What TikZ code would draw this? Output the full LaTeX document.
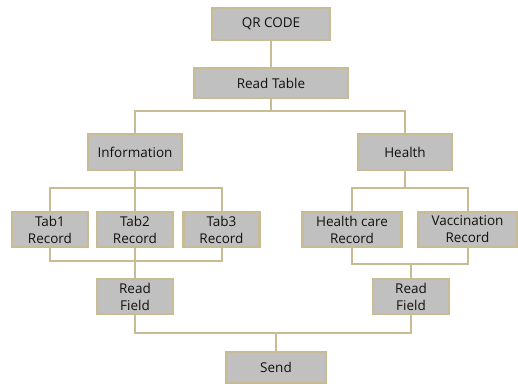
\documentclass[tikz,border=0pt]{standalone}
\usepackage{fontspec}
\setmainfont{Open Sans}
\definecolor{boxfill}{HTML}{C0C0C0}
\definecolor{edge}{HTML}{C7BC93}
\definecolor{txt}{HTML}{111111}
\begin{document}
\begin{tikzpicture}[x=1pt,y=-1pt,
  box/.style={draw=edge,line width=2.4pt,fill=boxfill,inner sep=0pt,
    text=txt,font=\fontsize{13.5}{17}\selectfont,align=center},
  link/.style={draw=edge,line width=2pt}]
\useasboundingbox (0,0) rectangle (518,383);
\node[box,minimum width=118,minimum height=32] (qr) at (271,24) {QR CODE};
\node[box,minimum width=154,minimum height=30] (rt) at (271,83) {Read Table};
\node[box,minimum width=94,minimum height=36] (info) at (135,152) {Information};
\node[box,minimum width=94,minimum height=36] (health) at (405,152) {Health};
\node[box,minimum width=76,minimum height=35] (t1) at (50,229.5) {Tab1\\Record};
\node[box,minimum width=76,minimum height=35] (t2) at (135,229.5) {Tab2\\Record};
\node[box,minimum width=76,minimum height=35] (t3) at (221.5,229.5) {Tab3\\Record};
\node[box,minimum width=99,minimum height=35] (hc) at (352,229.5) {Health care\\Record};
\node[box,minimum width=99,minimum height=35] (vac) at (467.5,229.5) {Vaccination\\Record};
\node[box,minimum width=76,minimum height=35] (rfl) at (135,296.5) {Read\\Field};
\node[box,minimum width=76,minimum height=35] (rfr) at (411,296.5) {Read\\Field};
\node[box,minimum width=100,minimum height=31] (send) at (276,367.5) {Send};
\coordinate (b1) at (0,111);
\coordinate (b2) at (0,188);
\coordinate (b3) at (0,261);
\coordinate (b4) at (0,264);
\coordinate (b5) at (0,333);
\draw[link] (qr.south) -- (rt.north);
\draw[link] (rt.south) -- (rt.south |- b1) -| (info.north);
\draw[link] (rt.south |- b1) -| (health.north);
\draw[link] (info.south) -- (info.south |- b2) -| (t1.north);
\draw[link] (info.south |- b2) -- (t2.north);
\draw[link] (info.south |- b2) -| (t3.north);
\draw[link] (health.south) -- (health.south |- b2) -| (hc.north);
\draw[link] (health.south |- b2) -| (vac.north);
\draw[link] (t1.south) |- (t2.south |- b3) -- (rfl.north);
\draw[link] (t3.south) |- (t2.south |- b3) -- (t2.south);
\draw[link] (hc.south) |- (rfr.north |- b4) -- (rfr.north);
\draw[link] (vac.south) |- (rfr.north |- b4);
\draw[link] (rfl.south) |- (send.north |- b5) -- (send.north);
\draw[link] (rfr.south) |- (send.north |- b5);
\end{tikzpicture}
\end{document}
